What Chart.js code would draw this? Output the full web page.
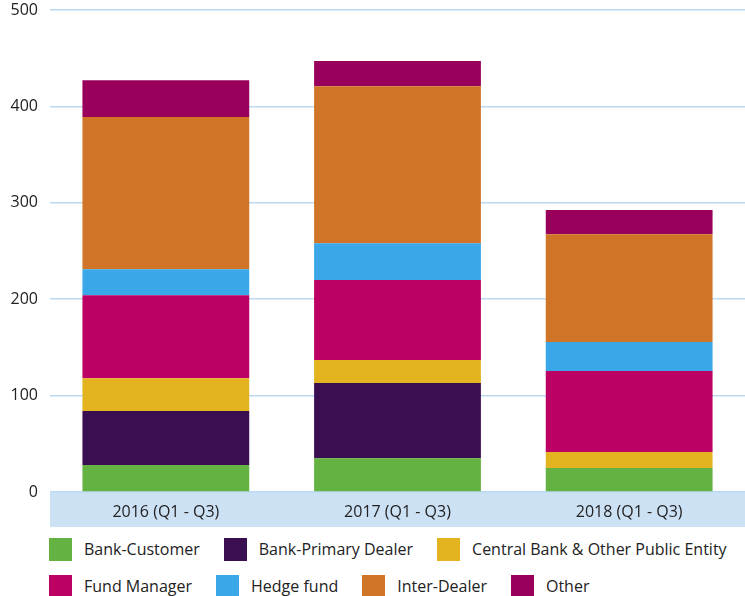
<!DOCTYPE html>
<html>
<head>
<meta charset="utf-8">
<script src="https://cdn.jsdelivr.net/npm/chart.js@4/dist/chart.umd.min.js"></script>
<style>
  html, body { margin: 0; padding: 0; background: #ffffff; overflow: hidden; }
  #wrap { position: relative; width: 745px; height: 530px; }
  #legend { width: 745px; height: 66px; padding: 8px 0 0 49px; box-sizing: border-box;
            font-family: "Open Sans", sans-serif; font-size: 16px; color: #222222; }
  .row { display: flex; flex-wrap: nowrap; white-space: nowrap; height: 23px; margin-bottom: 14px; }
  .item { display: flex; align-items: center; margin-right: 24px; line-height: 23px; }
  .box { width: 23px; height: 23px; margin-right: 12px; flex: none; }
</style>
</head>
<body>
<div id="wrap"><canvas id="chart"></canvas></div>
<div id="legend"></div>
<script>
const categories = ["2016 (Q1 - Q3)", "2017 (Q1 - Q3)", "2018 (Q1 - Q3)"];
const yTicks = [0, 100, 200, 300, 400, 500];

const bankCustomer      = [28, 35, 25];
const bankPrimaryDealer = [56, 78, 0];
const centralBank       = [34, 24, 16.5];
const fundManager       = [86, 83, 84];
const hedgeFund         = [27, 38, 30];
const interDealer       = [158, 163, 112];
const other             = [38, 26, 25];

const seriesNames = ["Bank-Customer", "Bank-Primary Dealer", "Central Bank & Other Public Entity",
                     "Fund Manager", "Hedge fund", "Inter-Dealer", "Other"];
const seriesValues = [bankCustomer, bankPrimaryDealer, centralBank, fundManager, hedgeFund, interDealer, other];
const seriesColors = ["#64b242", "#3a0f52", "#e3b420", "#bd0064", "#39a7e8", "#d07427", "#98005c"];

const bandPlugin = {
  id: 'band',
  beforeDraw(chart) {
    const {ctx, chartArea} = chart;
    ctx.save();
    ctx.fillStyle = '#cde1f5';
    ctx.fillRect(chartArea.left, chartArea.bottom, chartArea.right - chartArea.left, 35);
    ctx.restore();
  }
};

const htmlLegend = {
  id: 'htmlLegend',
  afterUpdate(chart) {
    const el = document.getElementById('legend');
    el.innerHTML = '';
    const items = Chart.defaults.plugins.legend.labels.generateLabels(chart);
    let row = null;
    items.forEach((it, i) => {
      if (i === 0 || i === 3) {
        row = document.createElement('div');
        row.className = 'row';
        el.appendChild(row);
      }
      const item = document.createElement('div');
      item.className = 'item';
      const box = document.createElement('span');
      box.className = 'box';
      box.style.background = it.fillStyle;
      const txt = document.createElement('span');
      txt.textContent = it.text;
      item.appendChild(box);
      item.appendChild(txt);
      row.appendChild(item);
    });
  }
};

new Chart(document.getElementById('chart'), {
  type: 'bar',
  data: {
    labels: categories,
    datasets: seriesNames.map((name, i) => ({
      label: name,
      data: seriesValues[i],
      backgroundColor: seriesColors[i],
      borderWidth: 0,
      categoryPercentage: 1.0,
      barPercentage: 0.72
    }))
  },
  options: {
    responsive: true,
    maintainAspectRatio: false,
    animation: false,
    layout: { padding: { top: 10, left: 0, right: 0, bottom: 0 } },
    plugins: {
      legend: { display: false },
      tooltip: { enabled: false }
    },
    scales: {
      x: {
        stacked: true,
        grid: { display: false },
        border: { display: false },
        ticks: {
          color: '#222222',
          font: { family: 'Open Sans', size: 16 },
          padding: 3
        },
        afterFit(scale) { scale.height = 38; }
      },
      y: {
        stacked: true,
        min: 0,
        max: 500,
        afterBuildTicks(scale) { scale.ticks = yTicks.map(v => ({ value: v })); },
        grid: { color: '#bad9f2', lineWidth: 1.5, drawTicks: false },
        border: { display: false },
        ticks: {
          color: '#222222',
          font: { family: 'Open Sans', size: 16 },
          padding: 12
        },
        afterFit(scale) { scale.width = 50; scale.paddingTop = 0; scale.paddingBottom = 0; }
      }
    }
  },
  plugins: [bandPlugin, htmlLegend]
});
</script>
</body>
</html>
